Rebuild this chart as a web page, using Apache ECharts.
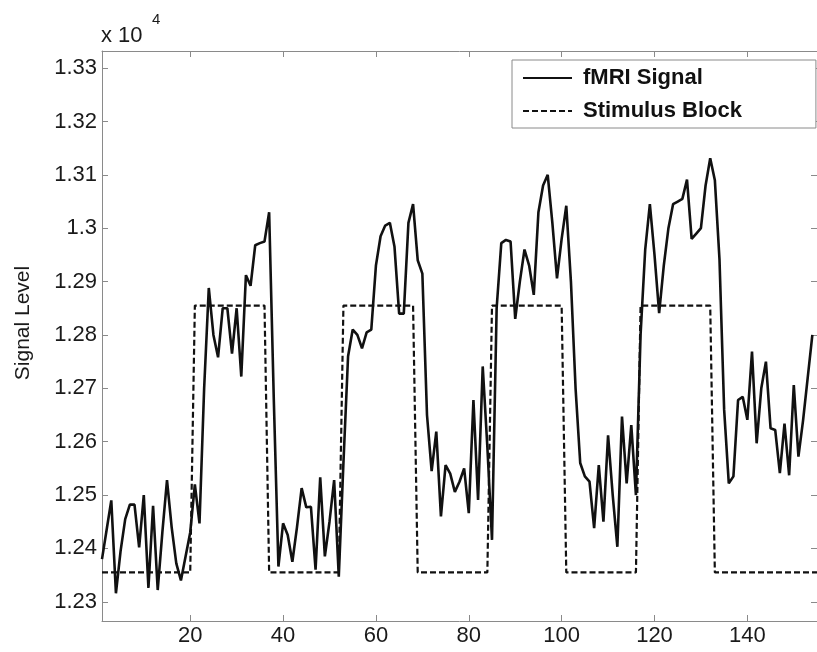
<!DOCTYPE html>
<html>
<head>
<meta charset="utf-8">
<script src="https://cdn.jsdelivr.net/npm/echarts@6/dist/echarts.min.js"></script>
<style>
html,body{margin:0;padding:0;background:#fff;}
#chart{width:817px;height:652px;}
</style>
</head>
<body>
<div id="chart"></div>
<script>
// fMRI signal, time points 1..154 (raw units)
const fmriSignal = [
12380,12435,12490,12316,12395,12455,12482,12482,12402,12500,
12326,12480,12322,12430,12528,12440,12372,12340,12385,12430,
12520,12447,12700,12888,12800,12758,12850,12850,12765,12850,
12722,12912,12892,12968,12972,12975,13030,12680,12366,12447,
12425,12375,12440,12513,12477,12478,12360,12533,12385,12450,
12528,12347,12560,12760,12810,12800,12775,12805,12810,12930,
12985,13005,13010,12965,12840,12840,13010,13045,12940,12915,
12650,12545,12619,12460,12556,12540,12506,12525,12550,12466,
12678,12491,12741,12590,12416,12850,12972,12978,12975,12830,
12900,12960,12930,12875,13030,13080,13100,13010,12906,12980,
13042,12900,12700,12560,12535,12525,12438,12556,12450,12612,
12500,12403,12647,12522,12631,12500,12800,12960,13045,12950,
12841,12930,13000,13045,13050,13055,13091,12980,12990,13000,
13080,13131,13090,12941,12660,12522,12535,12678,12684,12641,
12769,12597,12700,12750,12625,12622,12541,12634,12537,12706,
12572,12640,12720,12800
];
// stimulus block: low / high levels and block lengths (time points)
const stimLow = 12355;
const stimHigh = 12855;
const stimBlocks = [
  ['low', 20], ['high', 16], ['low', 16], ['high', 16], ['low', 16],
  ['high', 16], ['low', 16], ['high', 16], ['low', 23]
];
const xTicks = [20, 40, 60, 80, 100, 120, 140];
const yTicks = [12300, 12400, 12500, 12600, 12700, 12800, 12900, 13000, 13100, 13200, 13300];
const xRange = [1, 155];
const yRange = [12264, 13332];
const legendNames = ['fMRI Signal', 'Stimulus Block'];

const signalData = fmriSignal.map((v, i) => [i + 1, v]);
const stimData = [];
let t = 1;
stimBlocks.forEach(([lvl, n]) => {
  for (let k = 0; k < n; k++) { stimData.push([t, lvl === 'high' ? stimHigh : stimLow]); t++; }
});

const axisGray = '#8a8a8a';
const font = 'Liberation Sans, Arial, Helvetica, sans-serif';
const txt = '#1a1a1a';

const chart = echarts.init(document.getElementById('chart'), null, {renderer: 'canvas'});
chart.setOption({
  animation: false,
  backgroundColor: '#fff',
  grid: {left: 102, right: -2, top: 51, bottom: 31, containLabel: false},
  xAxis: [{
    type: 'value', min: xRange[0], max: xRange[1], position: 'bottom',
    axisLine: {show: true, onZero: false, lineStyle: {color: axisGray, width: 1}},
    axisTick: {show: true, inside: true, length: 6, customValues: xTicks, lineStyle: {color: axisGray}},
    axisLabel: {show: true, customValues: xTicks, margin: 4, color: txt, fontSize: 22, fontFamily: font},
    splitLine: {show: false}
  }, {
    type: 'value', min: xRange[0], max: xRange[1], position: 'top',
    axisLine: {show: true, onZero: false, lineStyle: {color: axisGray, width: 1}},
    axisTick: {show: true, inside: true, length: 6, customValues: xTicks, lineStyle: {color: axisGray}},
    axisLabel: {show: false},
    splitLine: {show: false}
  }],
  yAxis: [{
    type: 'value', min: yRange[0], max: yRange[1], position: 'left',
    axisLine: {show: true, onZero: false, lineStyle: {color: axisGray, width: 1}},
    axisTick: {show: true, inside: true, length: 6, customValues: yTicks, lineStyle: {color: axisGray}},
    axisLabel: {show: true, customValues: yTicks, margin: 5, color: txt, fontSize: 22, fontFamily: font,
      formatter: v => String(Math.round(v) / 10000)},
    splitLine: {show: false}
  }, {
    type: 'value', min: yRange[0], max: yRange[1], position: 'right',
    axisLine: {show: true, onZero: false, lineStyle: {color: axisGray, width: 1}},
    axisTick: {show: true, inside: true, length: 6, customValues: yTicks, lineStyle: {color: axisGray}},
    axisLabel: {show: false},
    splitLine: {show: false}
  }],
  legend: {
    orient: 'vertical', left: 512, top: 60,
    data: legendNames,
    itemWidth: 49, itemHeight: 14, itemGap: 11,
    padding: [7, 74, 6, 10],
    borderColor: '#8a8a8a', borderWidth: 1, backgroundColor: '#fff',
    itemStyle: {color: 'rgba(0,0,0,0)', borderWidth: 0, opacity: 0},
    textStyle: {color: '#111', fontSize: 22, fontWeight: 'bold', fontFamily: font, padding: [0, 0, 0, 6]}
  },
  graphic: [
    {type: 'text', left: 101, top: 25, style: {text: 'x 10', fontSize: 22, fontFamily: font, fill: txt}},
    {type: 'text', left: 152, top: 12, style: {text: '4', fontSize: 15, fontFamily: font, fill: txt}},
    {type: 'text', x: 23, y: 323, rotation: Math.PI / 2,
      style: {text: 'Signal Level', fontSize: 21, fontFamily: font, fill: txt, align: 'center', verticalAlign: 'middle'}}
  ],
  series: [{
    name: legendNames[0], type: 'line', data: signalData, xAxisIndex: 0, yAxisIndex: 0,
    symbol: 'none', lineStyle: {color: '#111', width: 2.6, type: 'solid'}, itemStyle: {color: '#111'}, z: 3
  }, {
    name: legendNames[1], type: 'line', data: stimData, xAxisIndex: 0, yAxisIndex: 0,
    symbol: 'none', lineStyle: {color: '#111', width: 2.2, type: [6, 3]}, itemStyle: {color: '#111'}, z: 2
  }]
});
</script>
</body>
</html>
